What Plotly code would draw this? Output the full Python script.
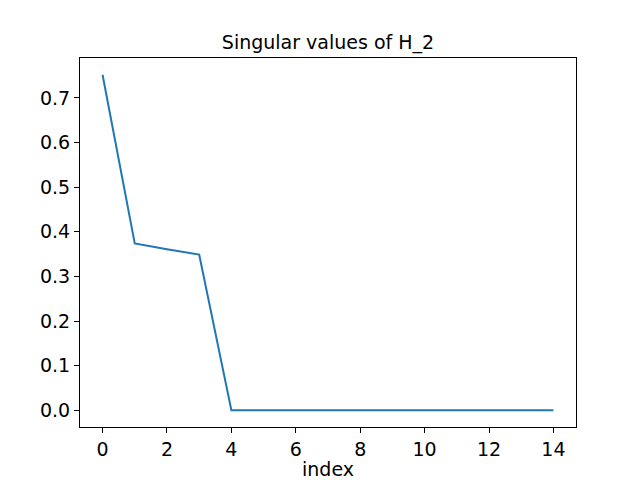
import plotly.graph_objects as go

# singular values
index = list(range(15))
singular_values = [0.752, 0.374, 0.361, 0.349, 0.0, 0.0, 0.0, 0.0, 0.0, 0.0, 0.0, 0.0, 0.0, 0.0, 0.0]
x_ticks = [0, 2, 4, 6, 8, 10, 12, 14]
y_ticks = [0.0, 0.1, 0.2, 0.3, 0.4, 0.5, 0.6, 0.7]

font = dict(family="DejaVu Sans", size=19, color="black")

fig = go.Figure()
fig.add_trace(go.Scatter(
    x=index, y=singular_values, mode="lines",
    line=dict(color="#1f77b4", width=2),
))

axis_common = dict(
    showgrid=False, zeroline=False, showline=True, mirror=True,
    linecolor="black", linewidth=1, ticks="outside", ticklen=5,
    tickcolor="black", tickwidth=1, tickfont=font, automargin=False,
)

fig.update_layout(
    width=640, height=480,
    margin=dict(l=80, r=64, t=58, b=53, autoexpand=False),
    paper_bgcolor="white", plot_bgcolor="white",
    font=font, showlegend=False,
    title=dict(text="Singular values of H_2", x=0.5125, xanchor="center",
               y=1 - 42 / 480, yanchor="middle", yref="container",
               font=font, automargin=False),
    xaxis=dict(range=[-0.7, 14.7], tickvals=x_ticks,
               title=dict(text="index", font=font, standoff=6), **axis_common),
    yaxis=dict(range=[-0.0376, 0.7896], tickvals=y_ticks,
               tickformat=".1f", **axis_common),
)

# drop the browser's default body margin so the figure fills the window
fig.write_html("out.html", config={"displayModeBar": False},
               post_script="document.body.style.margin='0';")
